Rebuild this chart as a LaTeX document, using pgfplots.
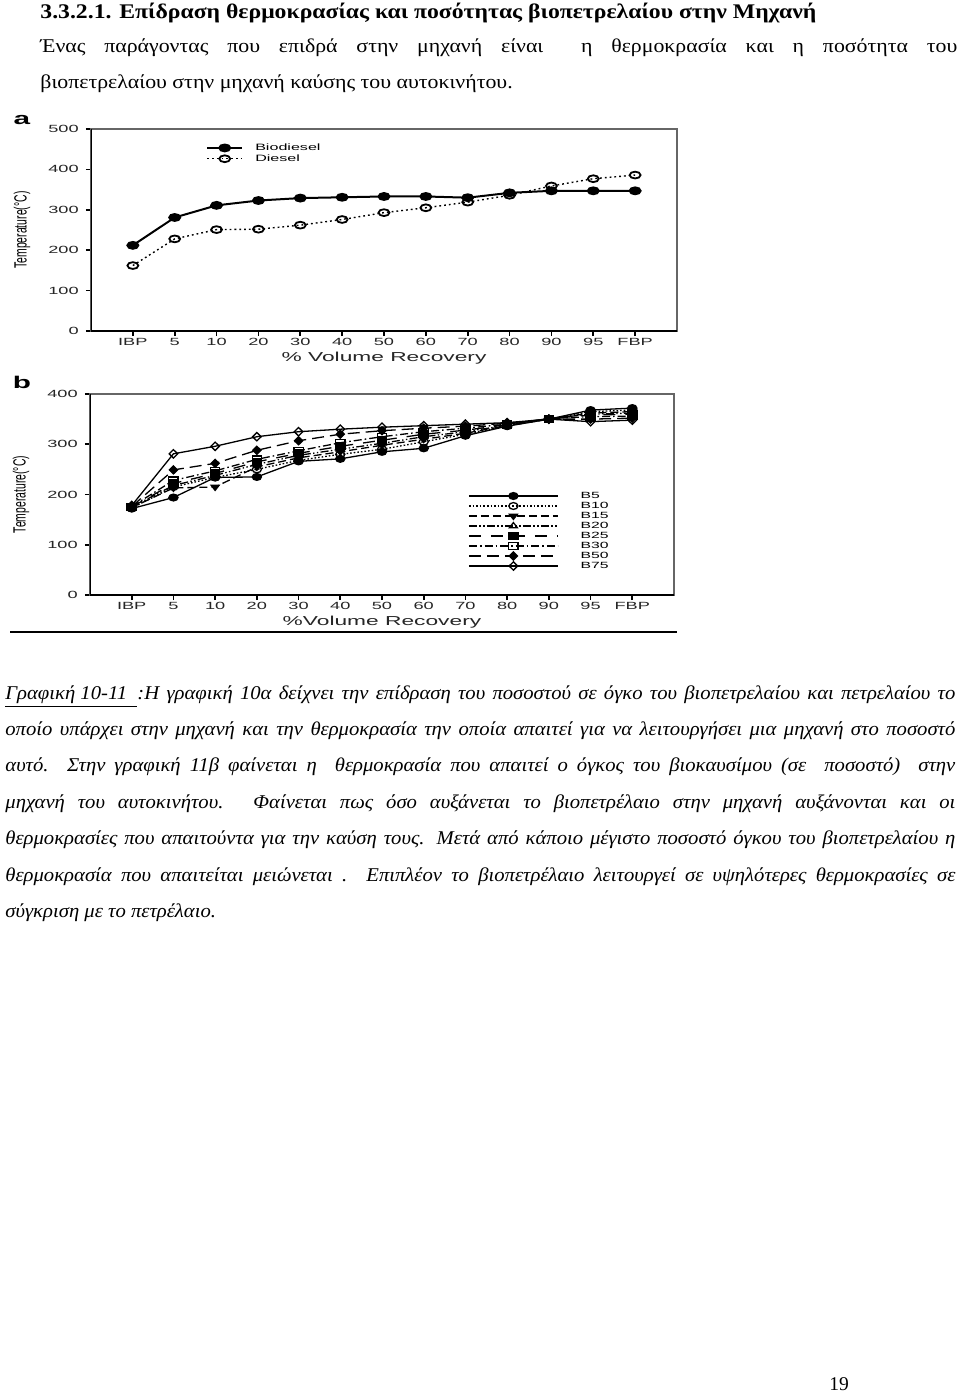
\documentclass[border=0pt]{standalone}
\usepackage{fontspec}
\setmainfont{Liberation Serif}
\newfontfamily\bodyfont[FakeStretch=1.12]{Liberation Serif}
\newfontfamily\headfont[FakeStretch=1.14]{Liberation Serif}
\newfontfamily\capfont[FakeStretch=1.06]{Liberation Serif}
\newfontfamily\chartfont[FakeStretch=1.75]{Liberation Sans}
\newfontfamily\chartplain{Liberation Sans}
\usepackage{pgfplots}
\pgfplotsset{compat=1.18}
\newcommand\bsize{\fontsize{9.75pt}{11pt}\selectfont}
\newcommand\tickfont{\chartfont\fontsize{5.2pt}{6pt}\selectfont}
\newcommand\labfont{\chartfont\fontsize{6.5pt}{7pt}\selectfont}
\pgfplotsset{
  pagechart/.style={
    scale only axis,
    xmin=-1, xmax=13, ymin=0,
    xtick={0,...,12},
    xticklabels={IBP,5,10,20,30,40,50,60,70,80,90,95,FBP},
    tick pos=left, tick align=outside,
    major tick length=2.6pt,
    axis line style={black!60, line width=0.7pt},
    tick style={black, line width=0.8pt},
    ticklabel style={font=\tickfont, black!85},
    xticklabel style={yshift=2.3pt},
    /pgf/number format/assume math mode=true,
    xlabel style={font=\labfont, black!85, at={(axis description cs:0.5,0)}, anchor=center, yshift=-13.5pt},
    ylabel style={font=\chartplain\fontsize{5.2pt}{6pt}\selectfont, at={(axis description cs:0,0.5)}, anchor=center, yshift=34.5pt},
    legend cell align=left,
  }
}
\begin{document}
\begin{tikzpicture}[x=0.5pt,y=-0.5pt]
\fill[white] (0,0) rectangle (960,1393);
\useasboundingbox (0,0) rectangle (960,1393);
% heading and text
\node[anchor=base west, inner sep=0pt] at (40,18) {\headfont\fontsize{10.4pt}{11pt}\selectfont\bfseries 3.3.2.1. Επίδραση θερμοκρασίας και ποσότητας βιοπετρελαίου στην Μηχανή};
\node[anchor=base west, inner sep=0pt] at (40,52) {\bodyfont\bsize\makebox[458.5pt][s]{Ένας παράγοντας που επιδρά στην μηχανή είναι\ \ η θερμοκρασία και η ποσότητα του}};
\node[anchor=base west, inner sep=0pt] at (40,88) {\bodyfont\bsize βιοπετρελαίου στην μηχανή καύσης του αυτοκινήτου.};
% chart a
\node[anchor=base, inner sep=0pt] at (22,124) {\chartfont\fontsize{8.5pt}{9pt}\selectfont\bfseries a};
\begin{axis}[pagechart, at={(45.5pt,-165.5pt)}, anchor=south west, width=293pt, height=101pt,
  ymax=500, ytick={0,100,...,500},
  xlabel={\% Volume Recovery},
  ylabel={\scalebox{1}[1.7]{Temperature(°C)}},
  legend style={at={(0.196,0.93)}, anchor=north west, draw=none, fill=none, inner sep=0pt,
    font=\chartfont\fontsize{4.6pt}{5pt}\selectfont,
    nodes={inner sep=0pt, text height=3.4pt, text depth=1pt},
    row sep=1pt, /tikz/every odd column/.append style={column sep=6pt}},
  legend image code/.code={\draw[mark repeat=2,mark phase=2,#1] plot coordinates {(0pt,0pt) (8.75pt,0pt) (17.5pt,0pt)};},
]
\addplot[black, line width=1pt, mark=*, mark size=1.7pt, mark options={solid, xscale=1.6}]
 coordinates {(0,212)(1,281)(2,311)(3,323)(4,329)(5,331)(6,333)(7,333)(8,330)(9,342)(10,347)(11,347)(12,347)};
\addlegendentry{Biodiesel}
\addplot[black, line width=0.7pt, dash pattern=on 0.9pt off 1.5pt, mark=o, mark size=1.7pt, mark options={solid, fill=white, line width=0.9pt, xscale=1.6}]
 coordinates {(0,162)(1,228)(2,251)(3,252)(4,262)(5,276)(6,293)(7,305)(8,319)(9,336)(10,359)(11,377)(12,386)};
\addlegendentry{Diesel}
\draw[black, line width=1.2pt] (rel axis cs:0,1) -- (rel axis cs:0,0) -- (rel axis cs:1,0);
\end{axis}
% chart b
\node[anchor=base, inner sep=0pt] at (22,388) {\chartfont\fontsize{8.5pt}{9pt}\selectfont\bfseries b};
\begin{axis}[pagechart, at={(45pt,-297.5pt)}, anchor=south west, width=292pt, height=100.5pt,
  ymax=400, ytick={0,100,...,400},
  xlabel={\%Volume Recovery},
  ylabel={\scalebox{1}[1.7]{Temperature(°C)}},
  legend style={at={(0.647,0.517)}, anchor=north west, draw=none, fill=none, inner sep=0pt,
    font=\chartfont\fontsize{4.5pt}{5pt}\selectfont,
    nodes={inner sep=0pt, text height=3.5pt, text depth=1pt},
    row sep=0.5pt, /tikz/every odd column/.append style={column sep=11pt}},
  legend image code/.code={\draw[mark repeat=2,mark phase=2,#1] plot coordinates {(0pt,0pt) (22.25pt,0pt) (44.5pt,0pt)};},
  every axis plot/.append style={black, line width=0.65pt, mark size=1.7pt},
]
\addplot[solid, mark=*, mark options={solid, xscale=1.35}]
 coordinates {(0,172)(1,194)(2,234)(3,235)(4,266)(5,271)(6,285)(7,292)(8,317)(9,336)(10,350)(11,368)(12,372)};
\addlegendentry{B5}
\addplot[dash pattern=on 0.8pt off 1pt, mark=o, mark options={solid, fill=white, xscale=1.35}]
 coordinates {(0,173)(1,215)(2,234)(3,250)(4,268)(5,280)(6,290)(7,305)(8,320)(9,337)(10,350)(11,365)(12,368)};
\addlegendentry{B10}
\addplot[dash pattern=on 4pt off 2pt, mark=triangle*, mark options={solid, rotate=180, xscale=1.35}]
 coordinates {(0,174)(1,213)(2,215)(3,255)(4,273)(5,285)(6,298)(7,310)(8,322)(9,337)(10,350)(11,362)(12,365)};
\addlegendentry{B15}
\addplot[dash pattern=on 4pt off 1.2pt on 0.7pt off 1.2pt on 0.7pt off 1.2pt, mark=triangle, mark options={solid, fill=white, xscale=1.35}]
 coordinates {(0,175)(1,218)(2,238)(3,260)(4,278)(5,290)(6,302)(7,315)(8,325)(9,338)(10,351)(11,360)(12,362)};
\addlegendentry{B20}
\addplot[dash pattern=on 6pt off 5pt, mark=square*, mark options={solid, xscale=1.35}]
 coordinates {(0,175)(1,222)(2,242)(3,265)(4,282)(5,296)(6,308)(7,320)(8,328)(9,339)(10,351)(11,358)(12,360)};
\addlegendentry{B25}
\addplot[dash pattern=on 4pt off 1.5pt on 0.8pt off 1.5pt, mark=square, mark options={solid, fill=white, xscale=1.35}]
 coordinates {(0,176)(1,228)(2,247)(3,270)(4,287)(5,303)(6,315)(7,325)(8,332)(9,340)(10,351)(11,355)(12,356)};
\addlegendentry{B30}
\addplot[dash pattern=on 6pt off 3pt, mark=diamond*, mark size=2pt, mark options={solid, xscale=1.35}]
 coordinates {(0,176)(1,249)(2,262)(3,288)(4,307)(5,320)(6,327)(7,332)(8,336)(9,342)(10,350)(11,350)(12,352)};
\addlegendentry{B50}
\addplot[solid, mark=diamond, mark size=2.1pt, mark options={solid, fill=white, xscale=1.35}]
 coordinates {(0,178)(1,281)(2,296)(3,315)(4,325)(5,330)(6,334)(7,337)(8,340)(9,343)(10,350)(11,345)(12,348)};
\addlegendentry{B75}
\draw[black, line width=1.2pt] (rel axis cs:0,1) -- (rel axis cs:0,0) -- (rel axis cs:1,0);
\end{axis}
\draw[black, line width=1pt] (10,632) -- (677,632);
% caption
\begin{scope}[every node/.style={anchor=base west, inner sep=0pt}]
\node at (5,699) {\capfont\bsize\itshape\makebox[475pt][s]{\underline{Γραφική 10-11\ \ }:Η γραφική 10α δείχνει την επίδραση του ποσοστού σε όγκο του βιοπετρελαίου και πετρελαίου το}};
\node at (5,735.4) {\capfont\bsize\itshape\makebox[475pt][s]{οποίο υπάρχει στην μηχανή και την θερμοκρασία την οποία απαιτεί για να λειτουργήσει μια μηχανή στο ποσοστό}};
\node at (5,771.8) {\capfont\bsize\itshape\makebox[475pt][s]{αυτό. Στην γραφική 11β φαίνεται η\ \ θερμοκρασία που απαιτεί ο όγκος του βιοκαυσίμου (σε\ \ ποσοστό)\ \ στην}};
\node at (5,808.2) {\capfont\bsize\itshape\makebox[475pt][s]{μηχανή του αυτοκινήτου. Φαίνεται πως όσο αυξάνεται το βιοπετρέλαιο στην μηχανή αυξάνονται και οι}};
\node at (5,844.6) {\capfont\bsize\itshape\makebox[475pt][s]{θερμοκρασίες που απαιτούντα για την καύση τους. Μετά από κάποιο μέγιστο ποσοστό όγκου του βιοπετρελαίου η}};
\node at (5,881) {\capfont\bsize\itshape\makebox[475pt][s]{θερμοκρασία που απαιτείται μειώνεται . Επιπλέον το βιοπετρέλαιο λειτουργεί σε υψηλότερες θερμοκρασίες σε}};
\node at (5,917.4) {\capfont\bsize\itshape σύγκριση με το πετρέλαιο.};
\end{scope}
\node[anchor=base west, inner sep=0pt] at (829,1390) {\fontsize{9.75pt}{11pt}\selectfont 19};
\end{tikzpicture}
\end{document}
